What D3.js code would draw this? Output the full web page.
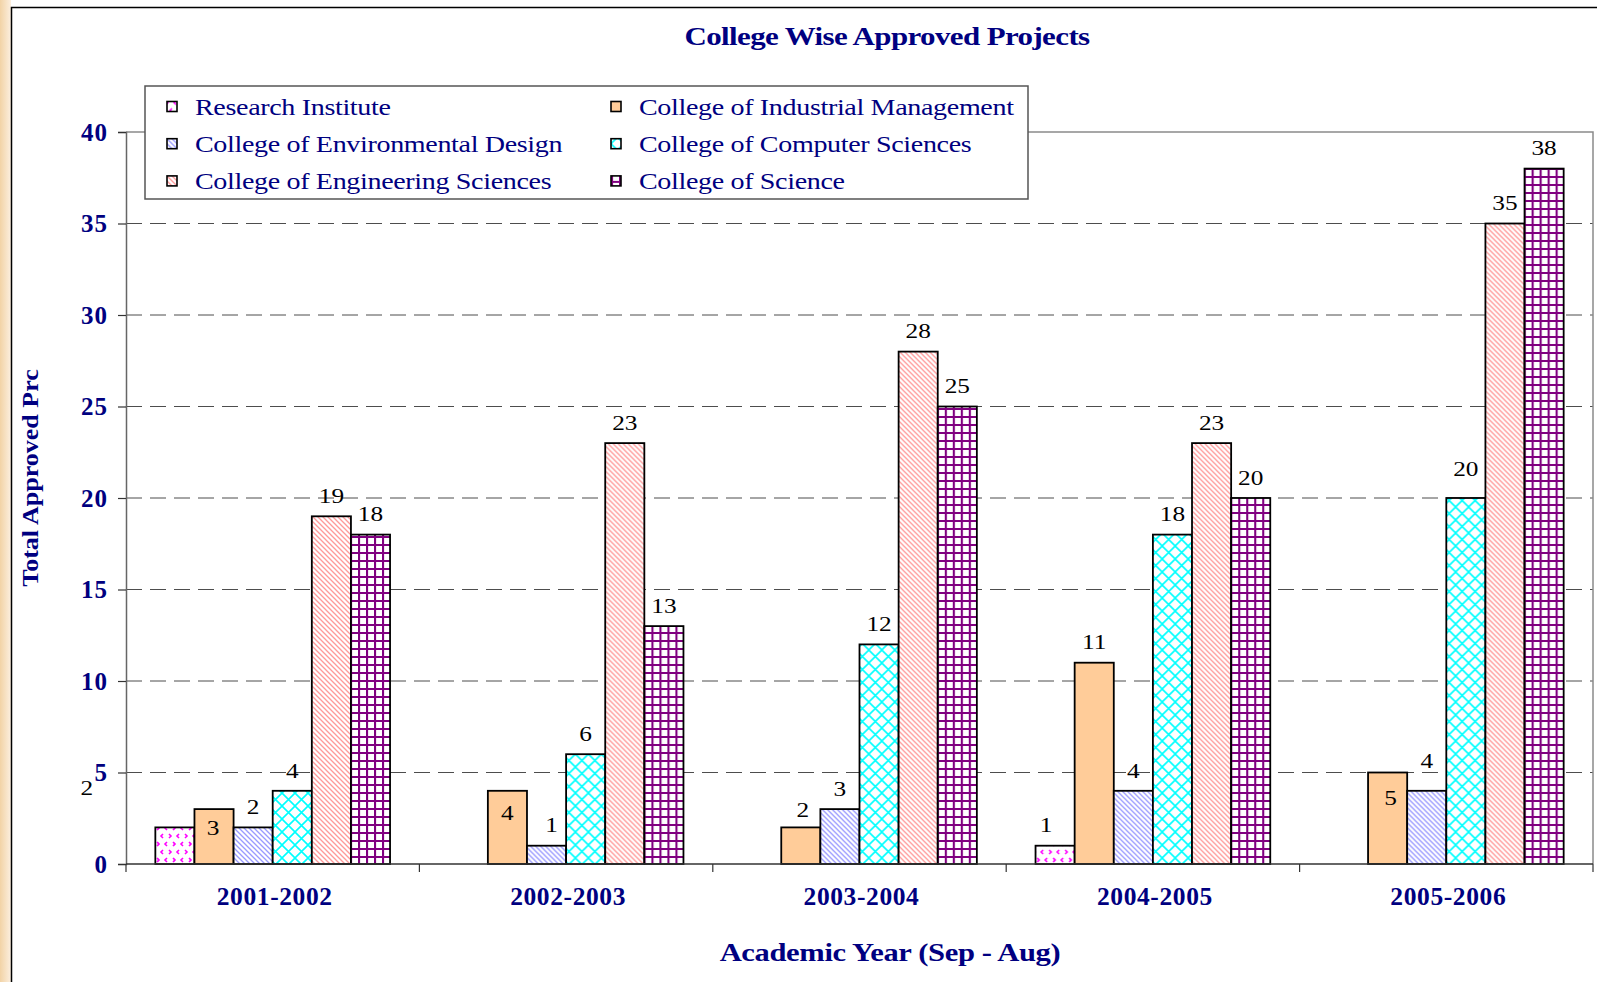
<!DOCTYPE html>
<html>
<head>
<meta charset="utf-8">
<script src="https://cdn.jsdelivr.net/npm/d3@7"></script>
<style>
  body { margin: 0; background: #fff; }
  svg { display: block; }
</style>
</head>
<body>
<div id="chart"></div>
<script>
// data
var years = ["2001-2002", "2002-2003", "2003-2004", "2004-2005", "2005-2006"];
var colleges = ["Research Institute", "College of Industrial Management", "College of Environmental Design",
                "College of Computer Sciences", "College of Engineering Sciences", "College of Science"];
var researchInstitute   = [2, 0, 0, 1, 0];
var industrialMgmt      = [3, 4, 2, 11, 5];
var environmentalDesign = [2, 1, 3, 4, 4];
var computerSciences    = [4, 6, 12, 18, 20];
var engineeringSciences = [19, 23, 28, 23, 35];
var science             = [18, 13, 25, 20, 38];
var yTicks = [0, 5, 10, 15, 20, 25, 30, 35, 40];

var seriesValues = [researchInstitute, industrialMgmt, environmentalDesign, computerSciences, engineeringSciences, science];
var patternIds = ["pRI", "pIM", "pED", "pCS", "pES", "pSC"];

// where the labels sit off the default "above the bar" spot (as in the original)
var labelNudge = {"0-0": [-88, -19], "1-0": [-1, 39], "1-1": [0, 42], "1-4": [3, 46],
                  "2-4": [0, -10], "3-4": [0, -9], "2-1": [5, 0], "0-3": [-9, 0], "1-2": [2, 3]};

var W = 1597, H = 982;
var navy = "#000080";
var serif = "'Liberation Serif', 'Times New Roman', serif";

var svg = d3.select("#chart").append("svg").attr("width", W).attr("height", H);

var defs = svg.append("defs");

// left beige strip
var grad = defs.append("linearGradient").attr("id", "edge").attr("x1", 0).attr("x2", 1);
grad.append("stop").attr("offset", 0).attr("stop-color", "#f2d3a6");
grad.append("stop").attr("offset", 1).attr("stop-color", "#fcefdf");
svg.append("rect").attr("x", 0).attr("y", 0).attr("width", 11).attr("height", H).attr("fill", "url(#edge)");

// patterns
function pat(id, w, h) {
  var p = defs.append("pattern").attr("id", id).attr("patternUnits", "userSpaceOnUse")
    .attr("width", w).attr("height", h);
  p.append("rect").attr("width", w).attr("height", h).attr("fill", "#fff");
  return p;
}
var p0 = pat("pRI", 16, 16);
p0.append("path")
  .attr("d", "M5,2 L3,4 L5,6 M11,2 L13,4 L11,6 M9,10 L7,12 L9,14 M15,10 L17,12 L15,14 M-1,10 L1,12 L-1,14")
  .attr("fill", "none").attr("stroke", "#ff00ff").attr("stroke-width", 1.6);
defs.append("pattern").attr("id", "pIM").attr("patternUnits", "userSpaceOnUse").attr("width", 4).attr("height", 4)
  .append("rect").attr("width", 4).attr("height", 4).attr("fill", "#ffcc99");
var p2 = pat("pED", 5, 5);
p2.append("path").attr("d", "M0,0 L5,5 M-1,4 L1,6 M4,-1 L6,1").attr("stroke", "#9999ff").attr("stroke-width", 1.3);
var p3 = pat("pCS", 13, 13);
p3.append("path").attr("d", "M0,0 L13,13 M13,0 L0,13").attr("stroke", "#00ffff").attr("stroke-width", 1.6);
var p4 = pat("pES", 5, 5);
p4.append("path").attr("d", "M0,0 L5,5 M-1,4 L1,6 M4,-1 L6,1").attr("stroke", "#ff9999").attr("stroke-width", 1.3);
var p5 = pat("pSC", 8, 8);
p5.append("path").attr("d", "M0,1 H8 M1,0 V8").attr("stroke", "#800080").attr("stroke-width", 2.2);

// outer chart border
svg.append("path").attr("d", "M11.5," + H + " V7.5 H" + W).attr("fill", "none").attr("stroke", "#000").attr("stroke-width", 1.5);

// scales
var x0 = d3.scaleBand().domain(years).range([126, 1593]).padding(0);
var x1 = d3.scaleBand().domain(d3.range(colleges.length)).range([0, x0.bandwidth()]).paddingInner(0).paddingOuter(0.75);
var y = d3.scaleLinear().domain([0, 40]).range([864, 132]);

// gridlines
svg.append("g").selectAll("line").data(yTicks.filter(function(t) { return t > 0 && t < 40; }))
  .enter().append("line")
  .attr("x1", 126).attr("x2", 1593)
  .attr("y1", function(d) { return y(d); }).attr("y2", function(d) { return y(d); })
  .attr("stroke", "#4d4d4d").attr("stroke-width", 1).attr("stroke-dasharray", "16,8");

// plot area top / right border
svg.append("path").attr("d", "M126," + y(40) + " H1593 V" + y(0))
  .attr("fill", "none").attr("stroke", "#8a8a8a").attr("stroke-width", 1.5);

// bars
var groups = svg.append("g").selectAll("g").data(years).enter().append("g")
  .attr("transform", function(d) { return "translate(" + x0(d) + ",0)"; });

function cells(yr, i) {
  return seriesValues.map(function(s, k) { return {k: k, i: i, v: s[i]}; })
    .filter(function(d) { return d.v > 0; });
}

groups.selectAll("rect").data(cells).enter().append("rect")
  .attr("x", function(d) { return x1(d.k); })
  .attr("width", x1.bandwidth())
  .attr("y", function(d) { return y(d.v); })
  .attr("height", function(d) { return y(0) - y(d.v); })
  .attr("fill", function(d) { return "url(#" + patternIds[d.k] + ")"; })
  .attr("stroke", "#000").attr("stroke-width", 1.8);

// value labels
groups.selectAll("text").data(cells).enter().append("text")
  .attr("transform", function(d) {
    var n = labelNudge[d.k + "-" + d.i] || [0, 0];
    var cx = x1(d.k) + x1.bandwidth() / 2 + n[0];
    var cy = y(d.v) - 21 + n[1];
    return "translate(" + cx + "," + cy + ") scale(1.15,1)";
  })
  .attr("dy", "0.35em")
  .attr("text-anchor", "middle")
  .style("font", "22px " + serif)
  .attr("fill", "#000")
  .text(function(d) { return d.v; });

// y axis
var yAxis = svg.append("g").attr("transform", "translate(126,0)")
  .call(d3.axisLeft(y).tickValues(yTicks).tickSize(8).tickPadding(10).tickFormat(d3.format("d")));
yAxis.select(".domain").attr("stroke", "#666").attr("stroke-width", 1.5);
yAxis.selectAll(".tick line").attr("stroke", "#333").attr("stroke-width", 1.2);
yAxis.selectAll(".tick text").attr("fill", navy)
  .style("font-family", serif).style("font-size", "25px").style("font-weight", "bold").style("letter-spacing", "1px");

// x axis
var xAxis = svg.append("g").attr("transform", "translate(0," + y(0) + ")")
  .call(d3.axisBottom(x0).tickSize(0).tickPadding(0));
xAxis.select(".domain").remove();
xAxis.selectAll(".tick text").attr("fill", navy).attr("y", 41).attr("dy", 0).attr("x", 2)
  .style("font-family", serif).style("font-size", "25.5px").style("font-weight", "bold").style("letter-spacing", "0.6px");
svg.append("line").attr("x1", 126).attr("x2", 1593).attr("y1", y(0)).attr("y2", y(0))
  .attr("stroke", "#333").attr("stroke-width", 1.5);
svg.append("g").selectAll("line").data(d3.range(years.length + 1)).enter().append("line")
  .attr("x1", function(i) { return 126 + i * x0.step(); })
  .attr("x2", function(i) { return 126 + i * x0.step(); })
  .attr("y1", y(0)).attr("y2", y(0) + 8)
  .attr("stroke", "#333").attr("stroke-width", 1.2);

// titles
svg.append("text").attr("transform", "translate(887,45) scale(1.19,1)")
  .attr("text-anchor", "middle").attr("fill", navy)
  .style("font", "bold 26px " + serif).style("letter-spacing", "-0.5px")
  .text("College Wise Approved Projects");

svg.append("text").attr("transform", "translate(890,961) scale(1.175,1)")
  .attr("text-anchor", "middle").attr("fill", navy)
  .style("font", "bold 26px " + serif).style("letter-spacing", "-0.3px")
  .text("Academic Year (Sep - Aug)");

svg.append("text").attr("transform", "translate(38,478) rotate(-90) scale(1.13,1)")
  .attr("text-anchor", "middle").attr("fill", navy)
  .style("font", "bold 23px " + serif)
  .text("Total Approved Prc");

// legend
var legend = svg.append("g");
legend.append("rect").attr("x", 145).attr("y", 86).attr("width", 883).attr("height", 113)
  .attr("fill", "#fff").attr("stroke", "#555").attr("stroke-width", 1.5);
var items = legend.selectAll("g.item").data(colleges).enter().append("g").attr("class", "item")
  .attr("transform", function(d, i) {
    return "translate(" + (i % 2 === 0 ? 167 : 611) + "," + (106.5 + Math.floor(i / 2) * 37.2) + ")";
  });
items.append("rect").attr("x", 0).attr("y", -5).attr("width", 10).attr("height", 10)
  .attr("fill", function(d, i) { return "url(#" + patternIds[i] + ")"; })
  .attr("stroke", "#000").attr("stroke-width", 1.6);
items.append("text").attr("transform", "translate(28,8) scale(1.17,1)")
  .attr("fill", navy).style("font", "24px " + serif).style("letter-spacing", "-0.3px")
  .text(function(d) { return d; });
</script>
</body>
</html>
